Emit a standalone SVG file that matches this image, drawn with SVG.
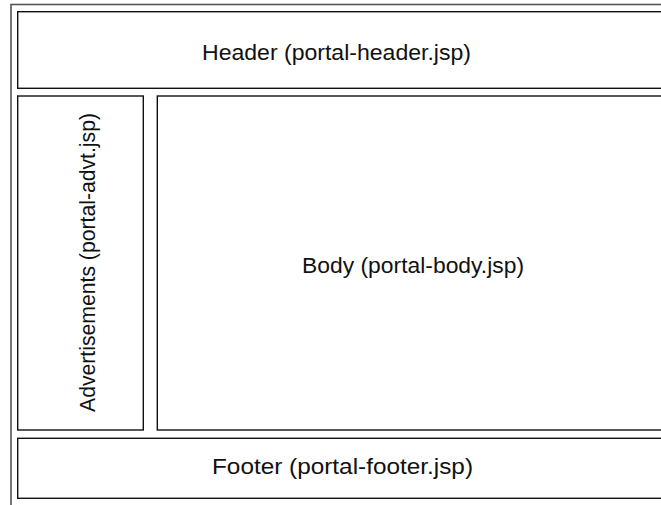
<svg xmlns="http://www.w3.org/2000/svg" width="661" height="505" viewBox="0 0 661 505">
<style>
.box{fill:#fff;stroke:#111;stroke-width:1.4}
.frame{fill:#fff;stroke:#555;stroke-width:1.6}
.t{font-family:"Liberation Sans",Arial,sans-serif;font-size:22px;fill:#111;text-anchor:middle}
</style>
<rect x="0" y="0" width="661" height="505" fill="#fff"/>
<rect class="frame" x="11" y="4.5" width="700" height="600"/>
<g id="header">
<rect class="box" x="17.7" y="11.7" width="700" height="76.6"/>
<text class="t" x="336.5" y="60" textLength="269" lengthAdjust="spacingAndGlyphs">Header (portal-header.jsp)</text>
</g>
<g id="advertisements">
<rect class="box" x="17.7" y="96" width="125.6" height="334"/>
<text class="t" transform="translate(95 262.5) rotate(-90)" x="0" y="0" textLength="299" lengthAdjust="spacingAndGlyphs">Advertisements (portal-advt.jsp)</text>
</g>
<g id="body">
<rect class="box" x="157.3" y="96" width="600" height="334"/>
<text class="t" x="413" y="272.7" textLength="222" lengthAdjust="spacingAndGlyphs">Body (portal-body.jsp)</text>
</g>
<g id="footer">
<rect class="box" x="17.7" y="438.3" width="700" height="60"/>
<text class="t" x="342.5" y="474" textLength="261" lengthAdjust="spacingAndGlyphs">Footer (portal-footer.jsp)</text>
</g>
<g id="connectors"/>
</svg>
